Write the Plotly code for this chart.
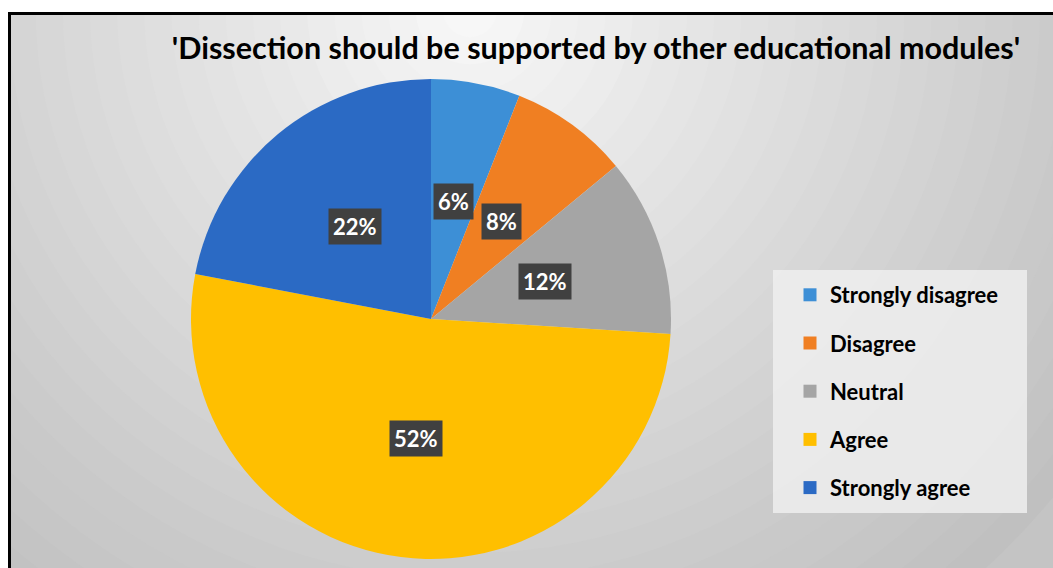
import math
import plotly.graph_objects as go

# ---- data ----
labels = ["Strongly disagree", "Disagree", "Neutral", "Agree", "Strongly agree"]
values = [6, 8, 12, 52, 22]
colors = ["#3D8FD6", "#F07F22", "#A5A5A5", "#FFBF00", "#2B6AC4"]
title_text = "'Dissection should be supported by other educational modules'"

W, H = 1053, 568
CX, CY, R = 431, 319, 240  # pie centre / radius in pixels


def px_x(x):
    return x / W


def px_y(y):
    return 1 - y / H


fig = go.Figure()

fig.add_trace(go.Pie(
    labels=labels,
    values=values,
    marker=dict(colors=colors, line=dict(width=0)),
    sort=False,
    direction="clockwise",
    rotation=0,
    textinfo="none",
    hoverinfo="label+percent",
    showlegend=False,
    domain=dict(x=[px_x(CX - R), px_x(CX + R)], y=[px_y(CY + R), px_y(CY - R)]),
))

# legend entries (one group per category so the spacing can be set)
for lab, col in zip(labels, colors):
    fig.add_trace(go.Scatter(
        x=[None], y=[None], mode="markers", name=lab, legendgroup=lab,
        marker=dict(symbol="square", size=13, color=col, line=dict(width=0)),
        hoverinfo="skip",
    ))

# ---- background radial gradient (banded) ----
shapes = []
GX, GY = 470, 10
n = 28
rmax = 760
c_in, c_out = 250, 192
for i in range(n):
    rr = rmax * (n - i) / n
    t = (n - i) / n
    c = int(round(c_in + (c_out - c_in) * min(1.0, t ** 0.9)))
    col = f"rgb({c},{c},{c})"
    shapes.append(dict(type="circle", xref="paper", yref="paper", layer="below",
                       x0=px_x(GX - rr), x1=px_x(GX + rr), y0=px_y(GY + rr), y1=px_y(GY - rr),
                       fillcolor=col, line=dict(width=0)))

# white margin and black frame
shapes.append(dict(type="rect", xref="paper", yref="paper", layer="below",
                   x0=0, x1=1, y0=px_y(12), y1=1.01, fillcolor="white", line=dict(width=0)))
shapes.append(dict(type="rect", xref="paper", yref="paper", layer="below",
                   x0=-0.01, x1=px_x(8), y0=-0.01, y1=1.01, fillcolor="white", line=dict(width=0)))
shapes.append(dict(type="line", xref="paper", yref="paper", layer="below",
                   x0=px_x(8), x1=1.01, y0=px_y(13.5), y1=px_y(13.5), line=dict(color="black", width=3)))
shapes.append(dict(type="line", xref="paper", yref="paper", layer="below",
                   x0=px_x(9.5), x1=px_x(9.5), y0=-0.01, y1=px_y(12), line=dict(color="black", width=3)))
# legend panel
shapes.append(dict(type="rect", xref="paper", yref="paper", layer="below",
                   x0=px_x(773), x1=px_x(1027), y0=px_y(513), y1=px_y(270),
                   fillcolor="rgba(238,238,238,0.85)", line=dict(width=0)))

# ---- percentage labels ----
annotations = []
total = sum(values)
cum = 0
for v in values:
    theta = 2 * math.pi * (cum + v / 2) / total
    cum += v
    x = CX + 0.5 * R * math.sin(theta)
    y = CY - 0.5 * R * math.cos(theta)
    annotations.append(dict(x=px_x(x), y=px_y(y), xref="paper", yref="paper",
                            xanchor="center", yanchor="middle",
                            text=f"{v}%", showarrow=False,
                            font=dict(family="Lato", size=22, color="white", weight="bold"),
                            bgcolor="#404040", borderpad=4))

fig.update_layout(
    width=W, height=H,
    margin=dict(l=0, r=0, t=0, b=0),
    paper_bgcolor="rgb(196,196,196)",
    plot_bgcolor="rgba(0,0,0,0)",
    xaxis=dict(visible=False),
    yaxis=dict(visible=False),
    shapes=shapes,
    annotations=annotations,
    title=dict(text=title_text, x=px_x(596), xanchor="center", y=px_y(48), yanchor="middle",
               font=dict(family="Lato", size=30.5, color="black", weight="bold")),
    legend=dict(x=px_x(790), xanchor="left", y=px_y(274), yanchor="top",
                bgcolor="rgba(0,0,0,0)", tracegroupgap=16.6,
                font=dict(family="Lato", size=22, color="black", weight="bold"),
                itemwidth=30),
    showlegend=True,
)

fig.write_html("out.html")
